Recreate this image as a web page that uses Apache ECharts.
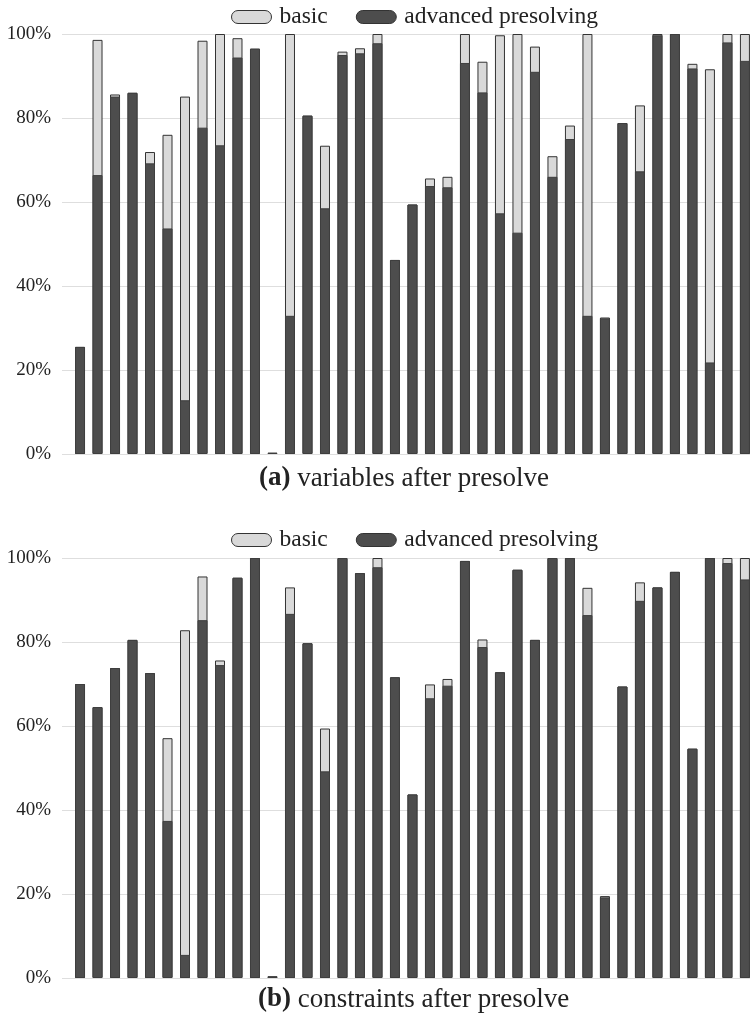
<!DOCTYPE html>
<html>
<head>
<meta charset="utf-8">
<script src="https://cdn.jsdelivr.net/npm/echarts@6/dist/echarts.min.js"></script>
<style>
  html, body { margin: 0; padding: 0; background: #fff; }
  #chart { width: 750px; height: 1017px; }
</style>
</head>
<body>
<div id="chart"></div>
<script>
// Test instances, one bar each (same order in both panels)
const instances = ['1','2','3','4','5','6','7','8','9','10','11','12','13','14','15','16','17','18','19','20',
                   '21','22','23','24','25','26','27','28','29','30','31','32','33','34','35','36','37','38','39'];

// Share of variables remaining after presolve (%)
const varsBasic    = [25.5, 98.6, 85.6, 86.0, 71.9, 76.0, 85.1, 98.4, 100, 99.0, 96.5, 0.3, 100, 80.6, 73.4, 95.8, 96.6, 100, 46.2, 59.4,
                      65.6, 66.0, 100, 93.4, 99.7, 100, 97.0, 70.9, 78.2, 100, 32.5, 78.8, 83.0, 100, 100, 92.9, 91.6, 100, 100];
const varsAdvanced = [25.5, 66.4, 85.1, 86.0, 69.2, 53.7, 12.8, 77.7, 73.5, 94.4, 96.5, 0.3, 32.9, 80.5, 58.5, 95.0, 95.4, 97.8, 46.2, 59.4,
                      63.8, 63.5, 93.1, 86.1, 57.3, 52.7, 91.0, 66.0, 75.0, 32.9, 32.3, 78.8, 67.3, 99.7, 100, 91.8, 21.8, 98.0, 93.6];

// Share of constraints remaining after presolve (%)
const consBasic    = [70.0, 64.5, 73.8, 80.5, 72.6, 57.1, 82.8, 95.6, 75.6, 95.3, 100, 0.4, 93.0, 79.7, 59.4, 100, 96.4, 100, 71.6, 43.7,
                      69.9, 71.2, 99.3, 80.6, 72.8, 97.2, 80.5, 100, 100, 92.9, 19.5, 69.4, 94.2, 93.0, 96.7, 54.6, 100, 100, 100];
const consAdvanced = [70.0, 64.5, 73.8, 80.5, 72.6, 37.4, 5.5, 85.2, 74.5, 95.3, 100, 0.4, 86.7, 79.7, 49.2, 100, 96.4, 97.8, 71.6, 43.7,
                      66.6, 69.6, 99.3, 78.8, 72.8, 97.2, 80.5, 100, 100, 86.4, 19.2, 69.4, 89.8, 93.0, 96.7, 54.6, 100, 98.8, 94.9];

const yTicks = [0, 20, 40, 60, 80, 100];
const seriesNames = ['basic', 'advanced presolving'];

const FONT = '"Liberation Serif", "Times New Roman", serif';
const LIGHT = '#d9d9d9';
const DARK = '#4d4d4d';
const CAPSULE = 'path://M6.5,0H33.5A6.5,6.5,0,0,1,33.5,13H6.5A6.5,6.5,0,0,1,6.5,0Z';

const toPoints = arr => arr.map((v, i) => [i, v]);

function panelAxes(gridIndex) {
  return {
    x: {
      type: 'value', gridIndex: gridIndex,
      min: -1.03, max: instances.length - 0.71,
      show: false, splitLine: { show: false }
    },
    y: {
      type: 'value', gridIndex: gridIndex,
      min: yTicks[0], max: yTicks[yTicks.length - 1], interval: 20,
      axisLine: { show: false }, axisTick: { show: false },
      axisLabel: { formatter: '{value}%', margin: 11, color: '#222', fontFamily: FONT, fontSize: 19 },
      splitLine: { lineStyle: { color: '#dedede', width: 1 } }
    }
  };
}

function panelSeries(idx, basic, advanced) {
  return [
    {
      name: seriesNames[0], type: 'bar', xAxisIndex: idx, yAxisIndex: idx,
      data: toPoints(basic), barWidth: 10, barGap: '-100%',
      itemStyle: { color: LIGHT, borderColor: '#333', borderWidth: 1 },
      animation: false, z: 2
    },
    {
      name: seriesNames[1], type: 'bar', xAxisIndex: idx, yAxisIndex: idx,
      data: toPoints(advanced), barWidth: 10, barGap: '-100%',
      itemStyle: { color: DARK, borderColor: '#3e3e3e', borderWidth: 1 },
      animation: false, z: 3
    }
  ];
}

const a0 = panelAxes(0), a1 = panelAxes(1);

function legend(top) {
  return {
    top: top, left: 231, padding: 0,
    itemWidth: 40, itemHeight: 13, itemGap: 28,
    icon: CAPSULE,
    textStyle: { fontFamily: FONT, fontSize: 23.5, color: '#222', padding: [0, 0, 0, 3] },
    data: [
      { name: seriesNames[0], itemStyle: { color: LIGHT, borderColor: '#333', borderWidth: 1 } },
      { name: seriesNames[1], itemStyle: { color: DARK, borderColor: '#333', borderWidth: 1 } }
    ],
    selectedMode: false
  };
}

const captionRich = {
  b: { fontFamily: FONT, fontSize: 27, fontWeight: 'bold', color: '#222' },
  n: { fontFamily: FONT, fontSize: 27, fontWeight: 'normal', color: '#222' }
};

const option = {
  backgroundColor: '#fff',
  animation: false,
  title: [
    { text: '{b|(a)}{n| variables after presolve}', left: 259, top: 465, padding: 0,
      textStyle: { fontWeight: 'normal', rich: captionRich } },
    { text: '{b|(b)}{n| constraints after presolve}', left: 258, top: 986, padding: 0,
      textStyle: { fontWeight: 'normal', rich: captionRich } }
  ],
  legend: [legend(5), legend(528)],
  grid: [
    { left: 62, right: 0, top: 34, height: 420 },
    { left: 62, right: 0, top: 558, height: 420 }
  ],
  xAxis: [a0.x, a1.x],
  yAxis: [a0.y, a1.y],
  series: [].concat(panelSeries(0, varsBasic, varsAdvanced), panelSeries(1, consBasic, consAdvanced))
};

const chart = echarts.init(document.getElementById('chart'), null, { renderer: 'canvas' });
chart.setOption(option);
</script>
</body>
</html>
